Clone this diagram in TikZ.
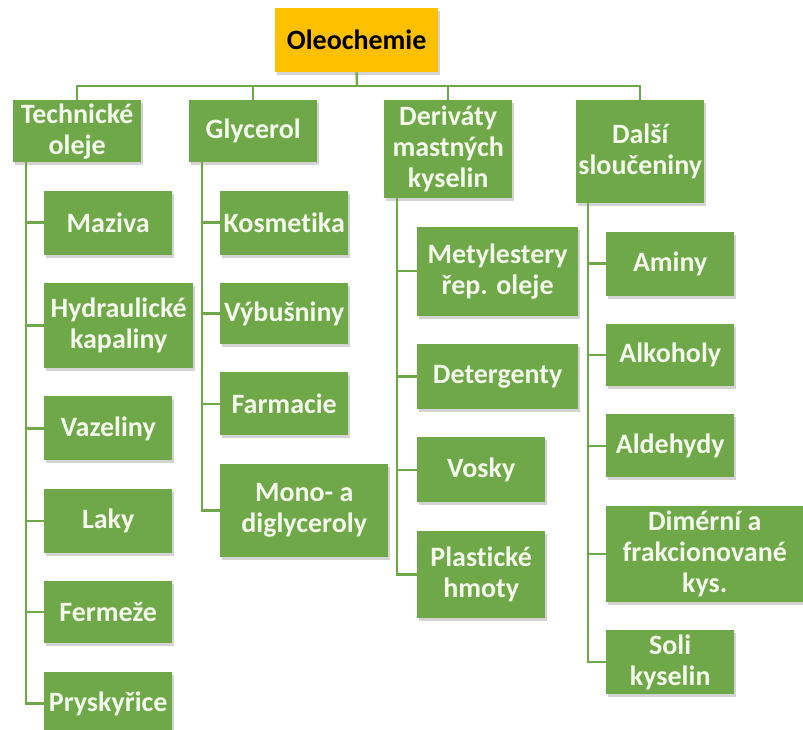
\documentclass[tikz,border=0pt]{standalone}
\usepackage{fontspec}
\setmainfont{Carlito}[Ligatures=NoCommon]
\usepackage{tikz}
\usetikzlibrary{positioning, shadows}
\definecolor{leaf}{RGB}{110,168,72}
\definecolor{gold}{RGB}{255,192,0}
\definecolor{cream}{RGB}{244,250,236}
\tikzstyle{itembox} = [rectangle, minimum width=128pt, minimum height=64pt, inner sep=2pt, align=center, fill=leaf, text=cream, font=\fontsize{28}{31}\selectfont\bfseries, drop shadow={shadow xshift=1.5pt, shadow yshift=-3pt, opacity=0.35}]
\tikzstyle{groupbox} = [itembox, anchor=north west]
\tikzstyle{headbox} = [itembox, fill=gold, text=black, minimum width=163pt, anchor=north west]
\tikzstyle{link} = [line width=2.5pt, draw=leaf]
\tikzset{stack/.style={below=28pt of #1.south west, anchor=north west}}

\begin{document}
\begin{tikzpicture}[x=1pt, y=-1pt]
\useasboundingbox (0,0) rectangle (803,730);

\node (olej) [headbox] at (275,8) {Oleochemie};

\node (tech) [groupbox, minimum height=62pt] at (13,100) {Technické\\oleje};
\node (glyc) [groupbox, minimum height=62pt] at (189,100) {Glycerol};
\node (deriv) [groupbox, minimum height=98pt] at (384,100) {Deriváty\\mastných\\kyselin};
\node (dalsi) [groupbox, minimum height=103pt] at (576,100) {Další\\sloučeniny};

% technicke oleje
\node (maziva) [itembox, stack=tech, xshift=31pt] {Maziva};
\node (hydr) [itembox, stack=maziva, minimum width=149pt, minimum height=85pt] {Hydraulické\\kapaliny};
\node (vazel) [itembox, stack=hydr] {Vazeliny};
\node (laky) [itembox, stack=vazel] {Laky};
\node (ferm) [itembox, stack=laky, minimum height=62pt] {Fermeže};
\node (prysk) [itembox, stack=ferm] {Pryskyřice};

% glycerol
\node (kosm) [itembox, stack=glyc, xshift=31pt] {Kosmetika};
\node (vybus) [itembox, stack=kosm, minimum height=61pt] {Výbušniny};
\node (farm) [itembox, stack=vybus, minimum height=63pt] {Farmacie};
\node (mono) [itembox, stack=farm, minimum width=168pt, minimum height=93pt] {Mono- a\\diglyceroly};

% derivaty
\node (metyl) [itembox, stack=deriv, xshift=33pt, minimum width=161pt, minimum height=89pt] {Metylestery\\řep. oleje};
\node (deterg) [itembox, stack=metyl, minimum width=161pt, minimum height=65pt] {Detergenty};
\node (vosky) [itembox, stack=deterg, minimum height=65pt] {Vosky};
\node (plast) [itembox, stack=vosky, minimum height=87pt] {Plastické\\hmoty};

% dalsi slouceniny
\node (aminy) [itembox, stack=dalsi, xshift=30pt] {Aminy};
\node (alkoh) [itembox, stack=aminy, minimum height=62pt] {Alkoholy};
\node (aldeh) [itembox, stack=alkoh, minimum height=63pt] {Aldehydy};
\node (dimer) [itembox, stack=aldeh, minimum width=197pt, minimum height=96pt] {Dimérní a\\frakcionované\\kys.};
\node (soli) [itembox, stack=dimer] {Soli\\kyselin};

\coordinate (hub) at (357,86);
\draw [link] (olej.south) -- (hub);
\draw [link] (hub) -| (tech.north);
\draw [link] (hub) -| (glyc.north);
\draw [link] (hub) -| (deriv.north);
\draw [link] (hub) -| (dalsi.north);

\draw [link] ([xshift=13pt]tech.south west) |- (maziva.west);
\draw [link] ([xshift=13pt]tech.south west) |- (hydr.west);
\draw [link] ([xshift=13pt]tech.south west) |- (vazel.west);
\draw [link] ([xshift=13pt]tech.south west) |- (laky.west);
\draw [link] ([xshift=13pt]tech.south west) |- (ferm.west);
\draw [link] ([xshift=13pt]tech.south west) |- (prysk.west);

\draw [link] ([xshift=13pt]glyc.south west) |- (kosm.west);
\draw [link] ([xshift=13pt]glyc.south west) |- (vybus.west);
\draw [link] ([xshift=13pt]glyc.south west) |- (farm.west);
\draw [link] ([xshift=13pt]glyc.south west) |- (mono.west);

\draw [link] ([xshift=13pt]deriv.south west) |- (metyl.west);
\draw [link] ([xshift=13pt]deriv.south west) |- (deterg.west);
\draw [link] ([xshift=13pt]deriv.south west) |- (vosky.west);
\draw [link] ([xshift=13pt]deriv.south west) |- (plast.west);

\draw [link] ([xshift=12pt]dalsi.south west) |- (aminy.west);
\draw [link] ([xshift=12pt]dalsi.south west) |- (alkoh.west);
\draw [link] ([xshift=12pt]dalsi.south west) |- (aldeh.west);
\draw [link] ([xshift=12pt]dalsi.south west) |- (dimer.west);
\draw [link] ([xshift=12pt]dalsi.south west) |- (soli.west);
\end{tikzpicture}
\end{document}
